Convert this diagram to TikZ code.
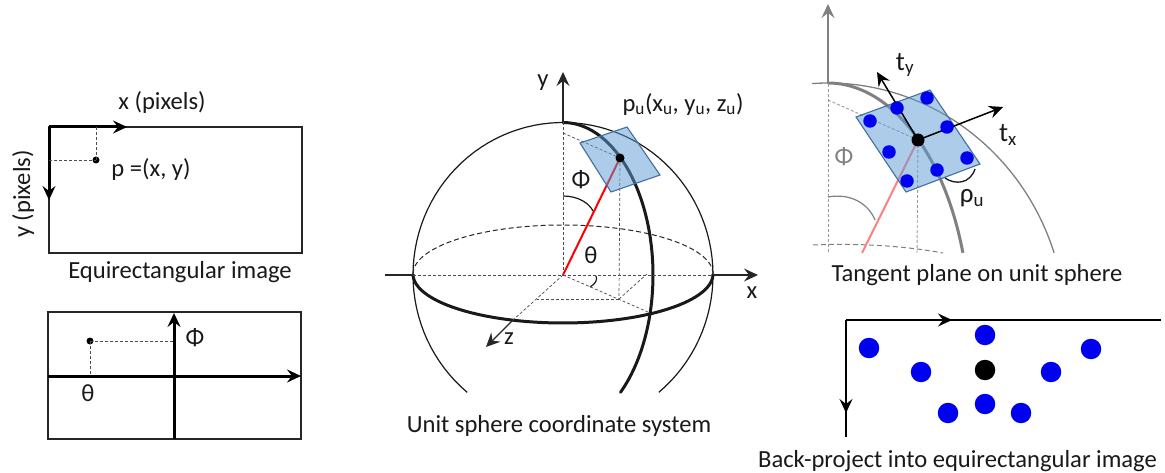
\documentclass[tikz,border=0pt]{standalone}
\usepackage{fontspec}
\setmainfont{Carlito}
\usetikzlibrary{arrows.meta}
\definecolor{planefill}{HTML}{5B9BD5}
\definecolor{planeline}{HTML}{41719C}
\definecolor{dotblue}{HTML}{0000F0}
\definecolor{softred}{HTML}{FF8080}
\definecolor{grayline}{HTML}{808080}
\tikzset{
  lbl/.style={inner sep=0pt,font=\fontsize{24.6}{27}\selectfont,text=black!90},
  biglbl/.style={lbl,font=\fontsize{27}{29}\selectfont},
  tip/.style={-{Stealth[length=14pt,width=13pt,inset=5pt]}},
  thin line/.style={line width=1.1pt,black!85},
  thick axis/.style={line width=3pt,black},
  dash line/.style={line width=.7pt,black!70,dash pattern=on 3pt off 2pt},
  tplane/.style={draw=planeline,line width=1.1pt,fill=planefill,fill opacity=.5},
  pt/.style={circle,fill=black,inner sep=0pt,minimum size=#1},
  bd/.style={circle,fill=dotblue,inner sep=0pt,minimum size=#1},
}
\begin{document}
\begin{tikzpicture}[x=1pt,y=-1pt]
\useasboundingbox (0,0) rectangle (1165,473);
\fill[white] (0,0) rectangle (1165,473);

% --- top-left image
\coordinate (ao) at (49,127);
\coordinate (ax) at (127,127);
\coordinate (ay) at (49,200);
\coordinate (ac) at (302,253);
\coordinate (apx) at (96,127);
\coordinate (apy) at (49,160);
\draw[thin line] (ao) rectangle (ac);
\draw[thick axis,tip] (ao) -- (ax);
\draw[thick axis,tip] (ao) -- (ay);
\node[pt=7pt] (ap) at (96,160) {};
\draw[dash line] (apx) -- (ap.center);
\draw[dash line] (apy) -- (ap.center);
\node[lbl] (axl) at (162,102) {x (pixels)};
\node[lbl,rotate=90] (ayl) at (23,194) {y (pixels)};
\node[lbl] (apl) at (151,169) {p =(x, y)};
\node[lbl] (acap) at (180,272) {Equirectangular image};

% --- bottom-left image
\coordinate (bo) at (48,312);
\coordinate (bc) at (301,439);
\coordinate (bhl) at (48,376);
\coordinate (bhr) at (301,376);
\coordinate (bvb) at (174,439);
\coordinate (bvt) at (174,313);
\coordinate (bdx) at (174,341);
\coordinate (bdy) at (90,376);
\draw[thin line] (bo) rectangle (bc);
\draw[thick axis,tip] (bhl) -- (bhr);
\draw[thick axis,tip] (bvb) -- (bvt);
\node[pt=7pt] (bp) at (90,341) {};
\draw[dash line] (bp.center) -- (bdx);
\draw[dash line] (bp.center) -- (bdy);
\node[lbl] (bphi) at (195,338) {Φ};
\node[lbl] (bth) at (88,393) {θ};

% --- central sphere
\coordinate (O) at (563,275);
\coordinate (N) at (563,122);
\coordinate (P) at (620,158);
\coordinate (W) at (413,275);
\coordinate (E) at (713,275);
\draw[line width=1.2pt,black!90] plot[domain=-50.3:230.3,samples=90] ({563+150*cos(\x)},{275-152.5*sin(\x)});
\draw[line width=3pt,black!90,line cap=round] plot[domain=90:-50.3,samples=60] ({563+90*cos(\x)},{275-152.5*sin(\x)});
\draw[line width=1pt,black!85,dash pattern=on 5pt off 3pt] plot[domain=0:180,samples=60] ({563+150*cos(\x)},{274-49*sin(\x)});
\draw[line width=3pt,black!90] plot[domain=180:360,samples=60] ({563+150*cos(\x)},{274-49*sin(\x)});
% axes
\coordinate (xl) at (385,275);
\coordinate (xr) at (758,275);
\coordinate (yt) at (563,72);
\coordinate (zm) at (513,320);
\coordinate (zt) at (486,347);
\draw[thin line] (xl) -- (W);
\draw[thin line,tip] (E) -- (xr);
\draw[thin line,tip] (N) -- (yt);
\draw[thin line,tip] (zm) -- (zt);
\draw[dash line] (W) -- (E);
\draw[dash line] (O) -- (N);
\draw[dash line] (O) -- (zm);
% construction lines
\coordinate (Nd) at (563,133);
\coordinate (F) at (619,299);
\coordinate (Fl) at (537,299);
\coordinate (Fr) at (647,274);
\coordinate (Fe) at (648,312);
\draw[dash line] (Nd) -- (P);
\draw[dash line] (P) -- (F);
\draw[dash line] (F) -- (Fl);
\draw[dash line] (F) -- (Fr);
\draw[dash line] (O) -- (Fe);
\draw[red,line width=2pt] (O) -- (P);
\draw[tplane] (580,143) -- (627,127) -- (660,175) -- (611,192) -- cycle;
\node[pt=9pt] (Pd) at (P) {};
\draw[line width=1.2pt,black!90] (563,196) .. controls (578,196) and (589,203) .. (593,211);
\draw[line width=1.2pt,black!90] (596,276) .. controls (598,280) and (595,284) .. (590,287);
\node[lbl] (syl) at (543,83) {y};
\node[lbl] (sxl) at (752,293) {x};
\node[lbl] (szl) at (509,339) {z};
\node[lbl] (sphi) at (581,180) {Φ};
\node[lbl] (sth) at (591,255) {θ};
\node[lbl] (spu) at (683,104) {p\textsubscript{u}(x\textsubscript{u}, y\textsubscript{u}, z\textsubscript{u})};
\node[lbl] (scap) at (559,426) {Unit sphere coordinate system};

% --- tangent plane panel
\coordinate (TN) at (828,84);
\coordinate (TT) at (828,4);
\coordinate (TP) at (918,140);
\coordinate (TR) at (862,253);
\coordinate (TB) at (828,253);
\coordinate (TD) at (828,100);
\coordinate (TF) at (917,253);
\coordinate (TX) at (1003,107);
\coordinate (TY) at (877,72);
\draw[grayline,line width=1.3pt] plot[domain=93.9:18.2,samples=60] ({828+238*cos(\x)},{330-247*sin(\x)});
\draw[grayline,line width=3pt] plot[domain=90:18.2,samples=60] ({828+142*cos(\x)},{330-247*sin(\x)});
\draw[grayline,line width=1.6pt,tip] (TN) -- (TT);
\draw[black!40,line width=.9pt,dash pattern=on 3pt off 2pt] (TN) -- (TB);
\draw[black!40,line width=.9pt,dash pattern=on 3pt off 2pt] (TD) -- (TP);
\draw[black!40,line width=.9pt,dash pattern=on 3pt off 2pt] (TP) -- (TF);
\draw[grayline,line width=1pt,dash pattern=on 5pt off 3pt] (813,245) .. controls (860,243) and (905,246) .. (943,253);
\draw[softred,line width=2pt] (TP) -- (TR);
\draw[grayline,line width=1.2pt] (828,197) .. controls (850,193) and (868,203) .. (875,220);
\draw[tplane] (856,117) -- (930,90) -- (980,164) -- (906,192) -- cycle;
\draw[line width=1.5pt,black,tip] (TP) -- (TX);
\draw[line width=1.5pt,black,tip] (TP) -- (TY);
\foreach \n/\a/\b in {t1/897/108,t2/927/98,t3/870/121,t4/947/127,t5/889/152,t6/967/158,t7/937/170,t8/907/181}
  \node[bd=13.5pt] (\n) at (\a,\b) {};
\node[pt=13pt] (TPd) at (TP) {};
\draw[line width=1.3pt,black!90] (945,178) .. controls (955,185) and (970,184) .. (975,169);
\node[biglbl] (tyl) at (905,65) {t\textsubscript{y}};
\node[biglbl] (txl) at (1008,135) {t\textsubscript{x}};
\node[biglbl] (trl) at (972,198) {ρ\textsubscript{u}};
\node[lbl,text=grayline] (tphi) at (844,157) {Φ};
\node[lbl] (tcap) at (977,275) {Tangent plane on unit sphere};

% --- back-projection panel
\coordinate (BO) at (846,320);
\coordinate (BX) at (1161,320);
\coordinate (BXa) at (952,320);
\coordinate (BY) at (846,437);
\coordinate (BYa) at (846,413);
\draw[line width=1.5pt,black] (BO) -- (BX);
\draw[line width=1.5pt,black] (BO) -- (BY);
\draw[line width=1.5pt,black,tip] (BO) -- (BXa);
\draw[line width=1.5pt,black,tip] (BO) -- (BYa);
\foreach \n/\a/\b in {b1/869/348,b2/985/335,b3/1091/349,b4/921/372,b6/1051/372,b7/948/413,b8/985/404,b9/1021/413}
  \node[bd=20.5pt] (\n) at (\a,\b) {};
\node[pt=20.5pt] (b5) at (985,370) {};
\node[lbl] (bcap) at (957.5,461) {Back-project into equirectangular image};
\end{tikzpicture}
\end{document}
